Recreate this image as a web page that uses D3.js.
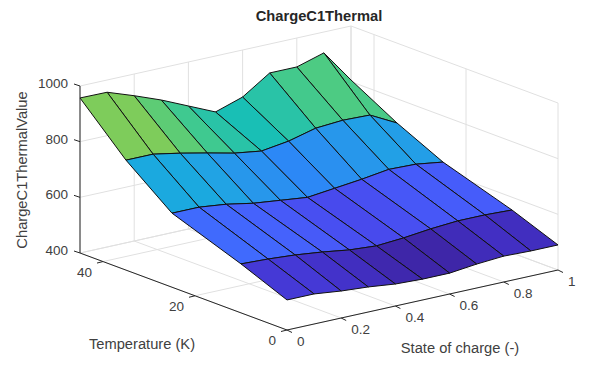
<!DOCTYPE html>
<html>
<head>
<meta charset="utf-8">
<script src="https://cdn.jsdelivr.net/npm/d3@7"></script>
<style>
  html, body { margin: 0; padding: 0; background: #fff; }
  text { font-family: "Liberation Sans", Arial, sans-serif; fill: #404040; }
</style>
</head>
<body>
<div id="chart"></div>
<script>
// breakpoints of the table
var soc = [0, 0.1, 0.2, 0.3, 0.4, 0.5, 0.6, 0.7, 0.8, 0.9, 1];
var temperature = [0, 10, 25, 35, 45];

// table values, one list per temperature
var valuesT0  = [508, 508, 497, 490, 479, 475, 475, 486, 493, 490, 490];
var valuesT10 = [576, 572, 565, 554, 540, 533, 540, 551, 558, 558, 554];
var valuesT25 = [666, 666, 655, 637, 626, 615, 626, 637, 651, 648, 634];
var valuesT35 = [795, 795, 777, 756, 734, 720, 734, 759, 766, 763, 713];
var valuesT45 = [957, 956, 922, 885, 842, 799, 831, 896, 896, 925, 806];
var values = [valuesT0, valuesT10, valuesT25, valuesT35, valuesT45];

// tick labels
var socTicks = [0, 0.2, 0.4, 0.6, 0.8, 1];
var tempTicks = [0, 20, 40];
var valueTicks = [400, 600, 800, 1000];

// parula colormap, every third entry
var parula = ["#3e26a8", "#4332cb", "#4741e5", "#4852f4", "#4563fd", "#3875fe", "#2d87f7", "#2796eb",
  "#20a5e3", "#12b1d6", "#02bac3", "#24c1ae", "#37c897", "#57cc7a", "#80cc59", "#abc739",
  "#d1bf27", "#efba36", "#fec338", "#f9d62d", "#f5e924", "#f9fb15"];

var width = 616, height = 371;

var svg = d3.select("#chart")
  .append("svg")
    .attr("width", width)
    .attr("height", height)
    .style("display", "block");

// oblique projection: each data axis adds a screen offset
var socX = d3.scaleLinear().domain([0, 1]).range([0, 271]);
var socY = d3.scaleLinear().domain([0, 1]).range([0, -60]);
var tempX = d3.scaleLinear().domain([0, 45]).range([0, -207]);
var tempY = d3.scaleLinear().domain([0, 45]).range([0, -77]);
var valueY = d3.scaleLinear().domain([400, 1000]).range([0, -167]);

var originX = 287, originY = 330;

function project(s, t, v) {
  return [originX + socX(s) + tempX(t), originY + socY(s) + tempY(t) + valueY(v)];
}

var line = d3.line();

var color = d3.scaleLinear()
  .domain(d3.range(parula.length).map(function(i) { return 475 + (957 - 475) * i / (parula.length - 1); }))
  .range(parula)
  .clamp(true);

// back walls and floor grid
var grid = svg.append("g")
  .attr("fill", "none")
  .attr("stroke", "#e0e0e0")
  .attr("stroke-width", 1);

function gridLine(a, b) {
  grid.append("path").attr("d", line([a, b]));
}

socTicks.forEach(function(s) {
  gridLine(project(s, 0, 400), project(s, 45, 400));
  gridLine(project(s, 45, 400), project(s, 45, 1000));
});
tempTicks.concat([45]).forEach(function(t) {
  gridLine(project(0, t, 400), project(1, t, 400));
  gridLine(project(1, t, 400), project(1, t, 1000));
});
valueTicks.forEach(function(v) {
  gridLine(project(0, 45, v), project(1, 45, v));
  gridLine(project(1, 45, v), project(1, 0, v));
});

// surface, back to front so nearer faces cover the far ones
var faces = [];
for (let j = temperature.length - 2; j >= 0; j--) {
  for (let i = soc.length - 2; i >= 0; i--) {
    faces.push({i: i, j: j});
  }
}

svg.append("g").selectAll("path")
  .data(faces)
  .enter()
  .append("path")
    .attr("d", function(d) {
      var corners = [
        project(soc[d.i], temperature[d.j], values[d.j][d.i]),
        project(soc[d.i + 1], temperature[d.j], values[d.j][d.i + 1]),
        project(soc[d.i + 1], temperature[d.j + 1], values[d.j + 1][d.i + 1]),
        project(soc[d.i], temperature[d.j + 1], values[d.j + 1][d.i])
      ];
      return line(corners) + "Z";
    })
    // flat shading takes the colour of the first vertex of the face
    .attr("fill", function(d) { return color(values[d.j][d.i]); })
    .attr("stroke", "#111")
    .attr("stroke-width", 1)
    .attr("stroke-linejoin", "round");

// axis lines
var axes = svg.append("g")
  .attr("fill", "none")
  .attr("stroke", "#262626")
  .attr("stroke-width", 1);

axes.append("path").attr("d", line([project(0, 0, 400), project(1, 0, 400)]));
axes.append("path").attr("d", line([project(0, 0, 400), project(0, 45, 400)]));
axes.append("path").attr("d", line([project(0, 45, 400), project(0, 45, 1000)]));

// tick marks and their labels
socTicks.forEach(function(s) {
  var p = project(s, 0, 400);
  axes.append("path").attr("d", line([p, [p[0] + 5, p[1] + 2.5]]));
  svg.append("text")
    .attr("x", p[0] + 10)
    .attr("y", p[1] + 16)
    .attr("font-size", 13.5)
    .text(s);
});

tempTicks.forEach(function(t) {
  var p = project(0, t, 400);
  axes.append("path").attr("d", line([p, [p[0] - 6, p[1] + 1.5]]));
  svg.append("text")
    .attr("x", p[0] - 11)
    .attr("y", p[1] + 15)
    .attr("text-anchor", "end")
    .attr("font-size", 13.5)
    .text(t);
});

valueTicks.forEach(function(v) {
  var p = project(0, 45, v);
  axes.append("path").attr("d", line([p, [p[0] - 6, p[1] - 2]]));
  svg.append("text")
    .attr("x", p[0] - 12)
    .attr("y", p[1] + 2)
    .attr("text-anchor", "end")
    .attr("font-size", 13.5)
    .text(v);
});

// titles
svg.append("text")
  .attr("x", 319)
  .attr("y", 21)
  .attr("text-anchor", "middle")
  .attr("font-size", 14.7)
  .attr("font-weight", "bold")
  .style("fill", "#262626")
  .text("ChargeC1Thermal");

svg.append("text")
  .attr("transform", "translate(27,170)rotate(-90)")
  .attr("text-anchor", "middle")
  .attr("font-size", 14.7)
  .text("ChargeC1ThermalValue");

svg.append("text")
  .attr("x", 142)
  .attr("y", 349)
  .attr("text-anchor", "middle")
  .attr("font-size", 14.7)
  .text("Temperature (K)");

svg.append("text")
  .attr("x", 460)
  .attr("y", 353)
  .attr("text-anchor", "middle")
  .attr("font-size", 14.7)
  .text("State of charge (-)");
</script>
</body>
</html>
